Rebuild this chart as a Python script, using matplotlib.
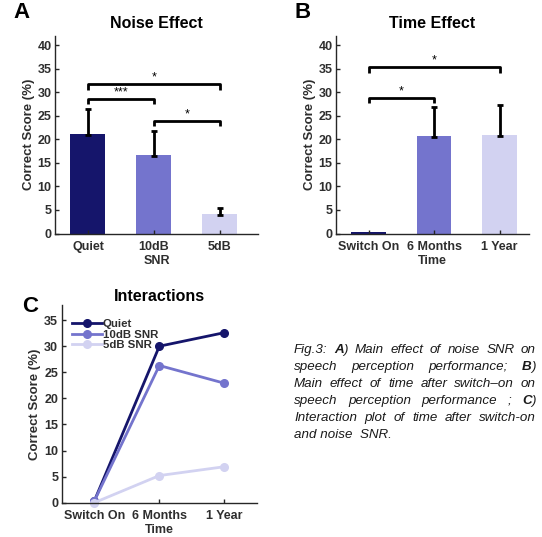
import matplotlib
matplotlib.use("Agg")
import matplotlib.pyplot as plt

plt.rcParams['font.family'] = ['Liberation Sans', 'DejaVu Sans']

# ---- data ----
noise_cats = ["Quiet", "10dB", "5dB"]
noise_means = [21.2, 16.6, 4.2]
noise_err = [5.3, 5.3, 1.3]

time_cats = ["Switch On", "6 Months", "1 Year"]
time_means = [0.3, 20.7, 21.0]
time_err = [0.0, 6.3, 6.3]

inter_series = ["Quiet", "10dB SNR", "5dB SNR"]
inter_quiet = [0.3, 30.0, 32.6]
inter_10db = [0.3, 26.3, 22.9]
inter_5db = [0.0, 5.2, 6.9]

bar_colors = ["#15156b", "#7474cd", "#d2d2f1"]
TXT = "#2e2e2e"
TICK_FS = 9
LAB_FS = 9.5

W, H = 542, 537
fig = plt.figure(figsize=(W / 100, H / 100), dpi=100)


def ax_rect(l, r, b, t):
    return [l / W, 1 - b / H, (r - l) / W, (b - t) / H]


def style(ax):
    ax.spines['top'].set_visible(False)
    ax.spines['right'].set_visible(False)
    for s in ('left', 'bottom'):
        ax.spines[s].set_color('#262626')
        ax.spines[s].set_linewidth(1.0)
    ax.tick_params(direction='in', length=3, width=1, colors='#262626',
                   labelcolor=TXT, labelsize=TICK_FS)
    ax.tick_params(axis='y', pad=2.5)
    ax.tick_params(axis='x', pad=5.5)
    for lab in ax.get_xticklabels() + ax.get_yticklabels():
        lab.set_fontweight('bold')


def labels(ax, xl, title, tpad):
    ax.set_xlabel(xl, fontsize=TICK_FS, color=TXT, labelpad=1.5, fontweight='bold')
    ax.set_ylabel("Correct Score (%)", fontsize=LAB_FS, color=TXT, labelpad=2,
                  fontweight='bold')
    ax.set_title(title, fontsize=11.5, fontweight='bold', color='black', pad=tpad)


def bracket(ax, x1, x2, y, drop, label):
    ax.plot([x1, x1, x2, x2], [y - drop, y, y, y - drop], color='black',
            lw=2, solid_capstyle='butt', clip_on=False)
    ax.text((x1 + x2) / 2, y + 0.1, label, ha='center', va='bottom',
            fontsize=9, color='black')


# ---- panel A ----
axA = fig.add_axes(ax_rect(55, 258, 233.5, 36))
xA = [1, 2, 3]
axA.bar(xA, noise_means, width=0.53, color=bar_colors, edgecolor='none')
axA.errorbar(xA, noise_means, yerr=[[0.2] * 3, noise_err], fmt='none',
             ecolor='black', elinewidth=2, capsize=2.5, capthick=2)
axA.set_xlim(0.5, 3.58)
axA.set_ylim(0, 42)
axA.set_yticks(range(0, 41, 5))
axA.set_xticks(xA)
axA.set_xticklabels(noise_cats)
labels(axA, "SNR", "Noise Effect", 6)
style(axA)
bracket(axA, 1, 3, 31.8, 1.2, "*")
bracket(axA, 1, 2, 28.6, 1.1, "***")
bracket(axA, 2, 3, 24.0, 1.2, "*")

# ---- panel B ----
axB = fig.add_axes(ax_rect(336, 529, 233.5, 36))
axB.bar(xA, time_means, width=0.53, color=bar_colors, edgecolor='none')
axB.errorbar(xA[1:], time_means[1:], yerr=[[0.2] * 2, time_err[1:]], fmt='none',
             ecolor='black', elinewidth=2, capsize=2.5, capthick=2)
axB.set_xlim(0.5, 3.45)
axB.set_ylim(0, 42)
axB.set_yticks(range(0, 41, 5))
axB.set_xticks(xA)
axB.set_xticklabels(time_cats)
labels(axB, "Time", "Time Effect", 6)
style(axB)
bracket(axB, 1, 3, 35.4, 1.2, "*")
bracket(axB, 1, 2, 28.8, 1.1, "*")

# ---- panel C ----
axC = fig.add_axes(ax_rect(61.7, 257, 502.7, 305))
for vals, col, name in zip([inter_quiet, inter_10db, inter_5db], bar_colors, inter_series):
    axC.plot(xA, vals, '-o', color=col, lw=2, ms=5.5, label=name, clip_on=False)
axC.set_xlim(0.5, 3.5)
axC.set_ylim(0, 37.9)
axC.set_yticks(range(0, 36, 5))
axC.set_xticks(xA)
axC.set_xticklabels(time_cats)
labels(axC, "Time", "Interactions", 3)
style(axC)
leg = axC.legend(loc='upper left', frameon=False, fontsize=8.2, handlelength=2.6,
                 handletextpad=0.1, labelspacing=0.02, borderaxespad=0.0,
                 bbox_to_anchor=(0.03, 0.95))
for t in leg.get_texts():
    t.set_fontweight('bold')
    t.set_color(TXT)

# ---- panel letters ----
for lab, (px, py) in zip("ABC", [(13, 13), (294, 13), (22, 307)]):
    fig.text(px / W, 1 - py / H, lab, fontsize=16, fontweight='bold',
             ha='left', va='center')

# ---- caption (justified) ----
caption_lines = [
    [[("Fig.3:", 'normal')], [("A", 'bold'), (")", 'normal')], [("Main", 'normal')],
     [("effect", 'normal')], [("of", 'normal')], [("noise", 'normal')],
     [("SNR", 'normal')], [("on", 'normal')]],
    [[("speech", 'normal')], [("perception", 'normal')], [("performance;", 'normal')],
     [("B", 'bold'), (")", 'normal')]],
    [[("Main", 'normal')], [("effect", 'normal')], [("of", 'normal')], [("time", 'normal')],
     [("after", 'normal')], [("switch\u2013on", 'normal')], [("on", 'normal')]],
    [[("speech", 'normal')], [("perception", 'normal')], [("performance", 'normal')],
     [(";", 'normal')], [("C", 'bold'), (")", 'normal')]],
    [[("Interaction", 'normal')], [("plot", 'normal')], [("of", 'normal')], [("time", 'normal')],
     [("after", 'normal')], [("switch-on", 'normal')]],
    [[("and noise  SNR.", 'normal')]],
]
cap_x0, cap_x1 = 294, 536
cap_y0, cap_dy = 350, 16.9
cap_fs = 9.6

fig.canvas.draw()
renderer = fig.canvas.get_renderer()


def piece_width(txt, weight):
    t = fig.text(0, 0, txt, fontsize=cap_fs, style='italic', fontweight=weight)
    w = t.get_window_extent(renderer=renderer).width
    t.remove()
    return w


space_w = piece_width("a a", 'normal') - piece_width("aa", 'normal')
n_lines = len(caption_lines)
for i, words in enumerate(caption_lines):
    y = 1 - (cap_y0 + i * cap_dy) / H
    widths = [[piece_width(p, w) for p, w in word] for word in words]
    tot = sum(sum(ws) for ws in widths)
    last = (i == n_lines - 1)
    if len(words) > 1 and not last:
        gap = (cap_x1 - cap_x0 - tot) / (len(words) - 1)
    else:
        gap = space_w
    x = cap_x0
    for word, ws in zip(words, widths):
        for (p, w), pw in zip(word, ws):
            fig.text(x / W, y, p, fontsize=cap_fs, style='italic', fontweight=w,
                     ha='left', va='center', color='#1a1a1a')
            x += pw
        x += gap

fig.savefig("out.png", dpi=100)
